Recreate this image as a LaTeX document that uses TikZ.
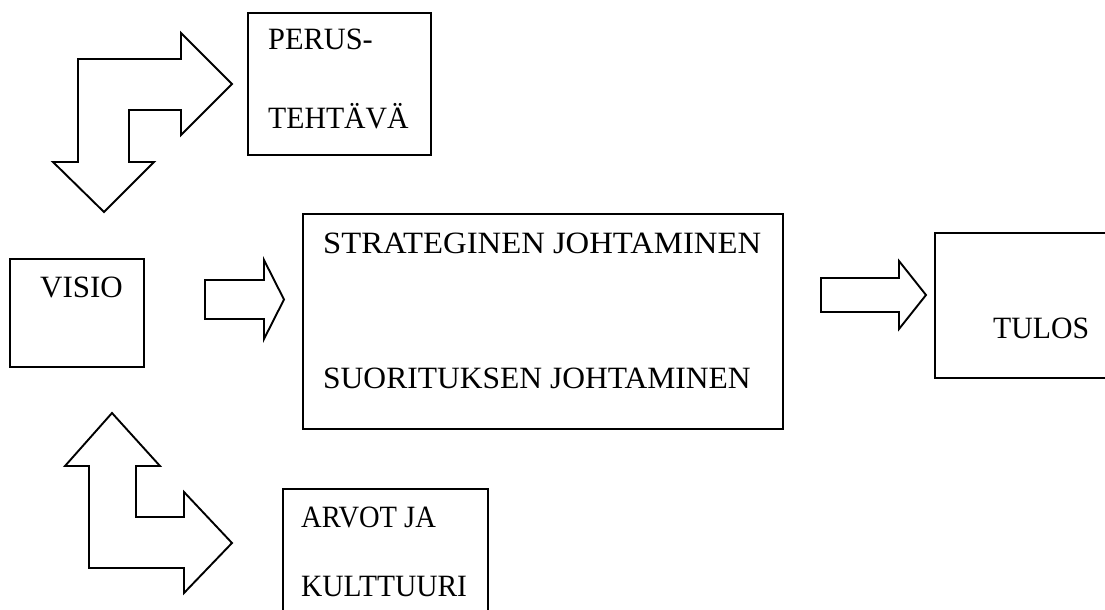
\documentclass[tikz,border=0pt]{standalone}
\usepackage{graphicx}
\usepackage{fontspec}
\setmainfont{Liberation Serif}
% horizontally scaled label text
\newcommand{\widelbl}[2]{\scalebox{#1}[1]{#2}}
\begin{document}
\begin{tikzpicture}[x=1pt,y=-1pt,
  frame/.style={draw, line width=2pt, inner sep=0pt, anchor=north west},
  blockarrow/.style={draw, line width=1.9pt, line join=miter, fill=white},
  lbl/.style={anchor=base west, inner sep=0pt, font=\fontsize{31}{31}\selectfont}]
\useasboundingbox (0,0) rectangle (1105,610);
\clip (0,0) rectangle (1105,610);
\fill[white] (0,0) rectangle (1105,610);

% boxes
\node[frame, minimum width=183pt, minimum height=142pt] (perus) at (247,12) {};
\node[frame, minimum width=134pt, minimum height=108pt] (visio) at (9,258) {};
\node[frame, minimum width=480pt, minimum height=215pt] (strat) at (302,213) {};
\node[frame, minimum width=200pt, minimum height=145pt] (tulos) at (934,232) {};
\node[frame, minimum width=205pt, minimum height=140pt] (arvot) at (282,488) {};

% labels
\node[lbl] (tPerus1) at (268,50) {\widelbl{0.98}{PERUS-}};
\node[lbl] (tPerus2) at (268,128) {\widelbl{0.96}{TEHTÄVÄ}};
\node[lbl] (tVisio) at (40,297) {VISIO};
\node[lbl] (tStrat1) at (323,253) {\widelbl{1.055}{STRATEGINEN JOHTAMINEN}};
\node[lbl] (tStrat2) at (323,388) {\widelbl{1.017}{SUORITUKSEN JOHTAMINEN}};
\node[lbl] (tTulos) at (993,338) {\widelbl{0.96}{TULOS}};
\node[lbl] (tArvot1) at (301,527) {\widelbl{0.92}{ARVOT JA}};
\node[lbl] (tArvot2) at (301,596) {\widelbl{0.95}{KULTTUURI}};

% bent arrow between vision and basic task
\draw[blockarrow] (78,59) -- (181,59) -- (181,33) -- (232,84) -- (181,135)
  -- (181,110) -- (129,110) -- (129,162) -- (154,162) -- (104,212)
  -- (53,162) -- (78,162) -- cycle;

% bent arrow between vision and values
\draw[blockarrow] (112,413) -- (160,466) -- (136,466) -- (136,517)
  -- (184,517) -- (184,492) -- (232,543) -- (184,593) -- (184,568)
  -- (89,568) -- (89,466) -- (65,466) -- cycle;

% straight arrows
\draw[blockarrow] (205,280) -- (264,280) -- (264,260) -- (284,299.5)
  -- (264,339) -- (264,319) -- (205,319) -- cycle;
\draw[blockarrow] (821,278) -- (899,278) -- (899,261) -- (926,295)
  -- (899,329) -- (899,312) -- (821,312) -- cycle;
\end{tikzpicture}
\end{document}
